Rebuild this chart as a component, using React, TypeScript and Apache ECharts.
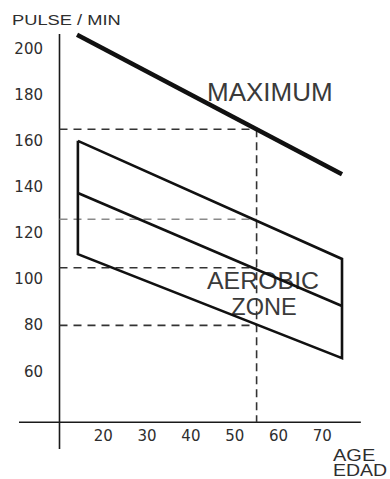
import React, { useEffect, useRef } from "react";
import * as echarts from "echarts";

// ---- data ----
const ageTicks = [20, 30, 40, 50, 60, 70];
const pulseTicks = [60, 80, 100, 120, 140, 160, 180, 200];

const maxAges = [14, 74.5];
const maxPulse = [206, 145.5];

const zoneAges = [14.2, 74.5];
const zoneUpper = [160, 108.8];
const zoneMiddle = [137.4, 88.4];
const zoneLower = [110.9, 65.8];

const markerAge = 55;
const markerMax = 165;
const markerLevelsDark = [105, 80];
const markerLevelGray = 126;

const originAge = 10;
const originPulse = 38;
const xAxisSpan = [0.75, 78.8];
const yAxisSpan = [26.4, 206.3];

const FONT = "'Liberation Sans', Arial, Helvetica, sans-serif";
const TEXT = "#2e2e2e";

export default function App() {
  const ref = useRef<HTMLDivElement>(null);

  useEffect(() => {
    if (!ref.current) return;
    const chart = echarts.init(ref.current, null, { renderer: "svg" });

    const seg = (pts: number[][], color: string, width: number, type: any = "solid") => ({
      type: "line",
      data: pts,
      symbol: "none",
      silent: true,
      clip: false,
      lineStyle: { color, width, type, join: "miter", cap: "butt" },
      z: 2,
    });

    const series: any[] = [
      // axis cross
      seg([[originAge, yAxisSpan[0]], [originAge, yAxisSpan[1]]], "#1a1a1a", 1.6),
      seg([[xAxisSpan[0], originPulse], [xAxisSpan[1], originPulse]], "#1a1a1a", 1.6),
      // dashed guides
      seg([[originAge, markerMax], [markerAge, markerMax]], "#333", 1.6, [8, 6]),
      seg([[markerAge, markerMax], [markerAge, originPulse]], "#333", 1.6, [8, 5]),
      seg([[originAge, markerLevelGray], [markerAge, markerLevelGray]], "#8a8a8a", 1.4, [8, 6]),
      ...markerLevelsDark.map((v) => seg([[originAge, v], [markerAge, v]], "#333", 1.6, [8, 6])),
      // maximum line
      seg([[maxAges[0], maxPulse[0]], [maxAges[1], maxPulse[1]]], "#111", 4.5),
      // aerobic zone outline
      seg(
        [
          [zoneAges[0], zoneUpper[0]],
          [zoneAges[1], zoneUpper[1]],
          [zoneAges[1], zoneLower[1]],
          [zoneAges[0], zoneLower[0]],
          [zoneAges[0], zoneUpper[0]],
        ],
        "#111",
        2.6
      ),
      seg([[zoneAges[0], zoneMiddle[0]], [zoneAges[1], zoneMiddle[1]]], "#111", 2.6),
    ];

    chart.setOption({
      animation: false,
      backgroundColor: "#ffffff",
      grid: { left: 15.7, width: 350.4, top: 2.4, height: 461.4, containLabel: false, outerBoundsMode: "none" },
      xAxis: {
        type: "value",
        min: 0,
        max: 80,
        interval: 10,
        offset: -43.8,
        axisLine: { show: false },
        axisTick: { show: false },
        splitLine: { show: false },
        axisLabel: {
          margin: 8,
          fontSize: 15,
          fontFamily: "'DejaVu Sans', sans-serif",
          color: TEXT,
          formatter: (v: number) => (ageTicks.includes(v) ? String(v) : ""),
        },
      },
      yAxis: {
        type: "value",
        min: 20,
        max: 220,
        interval: 20,
        offset: -35.3,
        axisLine: { show: false },
        axisTick: { show: false },
        splitLine: { show: false },
        axisLabel: {
          margin: 8,
          fontSize: 15,
          fontFamily: "'DejaVu Sans', sans-serif",
          color: TEXT,
          formatter: (v: number) => (pulseTicks.includes(v) ? String(v) : ""),
        },
      },
      graphic: [
        {
          type: "text",
          x: 12,
          y: 20.5,
          scaleX: 1.22,
          style: { text: "PULSE / MIN", font: `15px ${FONT}`, fill: TEXT, textVerticalAlign: "middle" },
        },
        {
          type: "text",
          x: 207,
          y: 92,
          style: { text: "MAXIMUM", font: `26px ${FONT}`, fill: "#3a3a3a", textVerticalAlign: "middle" },
        },
        {
          type: "text",
          x: 263,
          y: 281,
          scaleX: 1.06,
          style: { text: "AEROBIC", font: `23.5px ${FONT}`, fill: "#3a3a3a", textAlign: "center", textVerticalAlign: "middle" },
        },
        {
          type: "text",
          x: 264,
          y: 306.5,
          style: { text: "ZONE", font: `23.5px ${FONT}`, fill: "#3a3a3a", textAlign: "center", textVerticalAlign: "middle" },
        },
        {
          type: "text",
          x: 333,
          y: 456,
          scaleX: 1.25,
          style: { text: "AGE", font: `16px ${FONT}`, fill: TEXT, textVerticalAlign: "middle" },
        },
        {
          type: "text",
          x: 333,
          y: 470.5,
          scaleX: 1.22,
          style: { text: "EDAD", font: `16px ${FONT}`, fill: TEXT, textVerticalAlign: "middle" },
        },
      ],
      series,
    });

    return () => chart.dispose();
  }, []);

  return (
    <div
      ref={ref}
      style={{ position: "absolute", left: 0, top: 0, width: 390, height: 479 }}
    />
  );
}
